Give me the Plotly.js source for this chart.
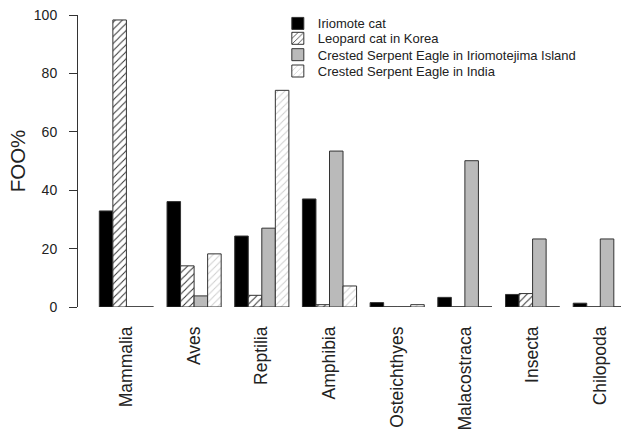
<!DOCTYPE html>
<html>
<head>
<meta charset="utf-8">
<script src="https://cdn.plot.ly/plotly-3.0.1.min.js"></script>
<style>html,body{margin:0;padding:0;overflow:hidden;background:#fff;}</style>
</head>
<body>
<div id="chart" style="width:621px;height:432px;"></div>
<script>
var categories = ["Mammalia","Aves","Reptilia","Amphibia","Osteichthyes","Malacostraca","Insecta","Chilopoda"];
var seriesNames = ["Iriomote cat","Leopard cat in Korea","Crested Serpent Eagle in Iriomotejima Island","Crested Serpent Eagle in India"];
var iriomoteCat   = [32.9, 36.1, 24.3, 37.0, 1.5, 3.3, 4.3, 1.3];
var leopardKorea  = [98.3, 14.1, 4.0, 0.8, 0, 0, 4.6, 0];
var eagleIriomote = [0, 3.8, 27.0, 53.4, 0, 50.1, 23.3, 23.3];
var eagleIndia    = [0, 18.2, 74.2, 7.2, 0.8, 0, 0, 0];
var yTicks = [0, 20, 40, 60, 80, 100];

var series = [iriomoteCat, leopardKorea, eagleIriomote, eagleIndia];
var lineStyle = {color: "#333", width: 1};
var markers = [
  {color: "#000", line: lineStyle},
  {color: "#fff", line: lineStyle, pattern: {shape: "/", fgcolor: "#333", bgcolor: "#fff", size: 5, solidity: 0.2}},
  {color: "#bababa", line: lineStyle},
  {color: "#fff", line: lineStyle, pattern: {shape: "/", fgcolor: "#cfcfcf", bgcolor: "#fff", size: 5, solidity: 0.2}}
];
var legendIds = ["legend", "legend2", "legend3", "legend4"];

var traces = series.map(function(vals, k){
  return {
    type: "bar", x: categories, y: vals, name: seriesNames[k],
    marker: markers[k], hoverinfo: "skip", legend: legendIds[k]
  };
});

// zero-height bars are drawn as a baseline stroke, as in the original
var nSeries = series.length, groupW = 0.8, barW = groupW / nSeries;
var shapes = [];
series.forEach(function(vals, k){
  vals.forEach(function(v, i){
    if (v === 0) {
      var x0 = i - groupW/2 + k*barW;
      shapes.push({type: "line", xref: "x", yref: "y", x0: x0, x1: x0 + barW, y0: 0, y1: 0,
                   line: {color: "#333", width: 1}});
    }
  });
});

function legendAt(yc) {
  return {x: 0.368, y: yc, xanchor: "left", yanchor: "middle", bgcolor: "rgba(0,0,0,0)",
          font: {size: 13, color: "#222"}};
}

var layout = {
  width: 621, height: 432,
  margin: {l: 78, r: 0, t: 15, b: 125},
  paper_bgcolor: "#fff", plot_bgcolor: "#fff",
  barmode: "group", bargap: 0.2, bargroupgap: 0,
  font: {family: "Liberation Sans, Arial, sans-serif", color: "#222"},
  showlegend: true,
  legend: legendAt(0.971),
  legend2: legendAt(0.92),
  legend3: legendAt(0.864),
  legend4: legendAt(0.808),
  xaxis: {
    type: "category", range: [-0.715, 7.306], showline: false, ticks: "", showgrid: false,
    zeroline: false, tickangle: -90, tickfont: {size: 17.5, color: "#222"}, ticklabelstandoff: 15
  },
  yaxis: {
    range: [0, 100], tickvals: yTicks, ticktext: yTicks.map(String),
    showline: true, linecolor: "#333", linewidth: 1, ticks: "outside", ticklen: 8,
    tickcolor: "#333", tickwidth: 1, showgrid: false, zeroline: false,
    tickfont: {size: 14, color: "#222"}, ticklabelstandoff: 9,
    title: {text: "FOO%", font: {size: 20.5, color: "#222"}, standoff: 2}
  },
  shapes: shapes
};

Plotly.newPlot("chart", traces, layout, {staticPlot: true, displayModeBar: false});
</script>
</body>
</html>
